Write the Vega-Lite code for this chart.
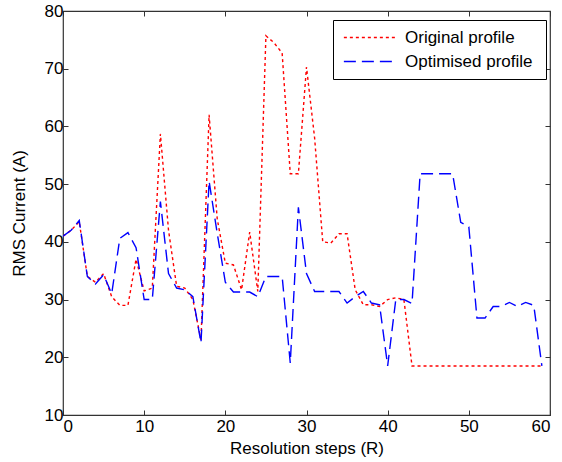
{
  "$schema": "https://vega.github.io/schema/vega-lite/v6.json",
  "width": 487,
  "height": 404,
  "autosize": {"type": "none"},
  "padding": {"left": 63, "top": 11, "right": 12, "bottom": 47},
  "background": "white",
  "config": {
    "view": {"stroke": "#333", "strokeWidth": 1.2},
    "font": "Liberation Sans",
    "axis": {
      "labelFont": "Liberation Sans", "titleFont": "Liberation Sans",
      "labelFontSize": 17, "titleFontSize": 17, "titleFontWeight": "normal",
      "labelColor": "#000", "titleColor": "#000",
      "domain": false, "grid": false,
      "tickColor": "#333", "tickSize": -5, "tickWidth": 1
    }
  },
  "data": {"values": [
    {"x":0,"s":"Original profile","v":41},{"x":1,"s":"Original profile","v":42},{"x":2,"s":"Original profile","v":43.5},{"x":3,"s":"Original profile","v":34},{"x":4,"s":"Original profile","v":33},{"x":5,"s":"Original profile","v":34.5},{"x":6,"s":"Original profile","v":30.5},{"x":7,"s":"Original profile","v":29},{"x":8,"s":"Original profile","v":29},{"x":9,"s":"Original profile","v":37},
    {"x":10,"s":"Original profile","v":31.5},{"x":11,"s":"Original profile","v":32},{"x":12,"s":"Original profile","v":58.7},{"x":13,"s":"Original profile","v":42},{"x":14,"s":"Original profile","v":32.3},{"x":15,"s":"Original profile","v":32},{"x":16,"s":"Original profile","v":30},{"x":17,"s":"Original profile","v":23},{"x":18,"s":"Original profile","v":62},{"x":19,"s":"Original profile","v":44},
    {"x":20,"s":"Original profile","v":36.3},{"x":21,"s":"Original profile","v":36},{"x":22,"s":"Original profile","v":31.7},{"x":23,"s":"Original profile","v":41.7},{"x":24,"s":"Original profile","v":31.4},{"x":25,"s":"Original profile","v":75.7},{"x":26,"s":"Original profile","v":74.5},{"x":27,"s":"Original profile","v":72.7},{"x":28,"s":"Original profile","v":51.8},{"x":29,"s":"Original profile","v":51.8},
    {"x":30,"s":"Original profile","v":70.3},{"x":31,"s":"Original profile","v":58},{"x":32,"s":"Original profile","v":40},{"x":33,"s":"Original profile","v":39.8},{"x":34,"s":"Original profile","v":41.4},{"x":35,"s":"Original profile","v":41.4},{"x":36,"s":"Original profile","v":31.7},{"x":37,"s":"Original profile","v":29.1},{"x":38,"s":"Original profile","v":29.1},{"x":39,"s":"Original profile","v":28.8},
    {"x":40,"s":"Original profile","v":30},{"x":41,"s":"Original profile","v":30.3},{"x":42,"s":"Original profile","v":30},{"x":43,"s":"Original profile","v":18.5},{"x":44,"s":"Original profile","v":18.5},{"x":45,"s":"Original profile","v":18.5},{"x":46,"s":"Original profile","v":18.5},{"x":47,"s":"Original profile","v":18.5},{"x":48,"s":"Original profile","v":18.5},{"x":49,"s":"Original profile","v":18.5},
    {"x":50,"s":"Original profile","v":18.5},{"x":51,"s":"Original profile","v":18.5},{"x":52,"s":"Original profile","v":18.5},{"x":53,"s":"Original profile","v":18.5},{"x":54,"s":"Original profile","v":18.5},{"x":55,"s":"Original profile","v":18.5},{"x":56,"s":"Original profile","v":18.5},{"x":57,"s":"Original profile","v":18.5},{"x":58,"s":"Original profile","v":18.5},{"x":59,"s":"Original profile","v":18.5},
    {"x":0,"s":"Optimised profile","v":41},{"x":1,"s":"Optimised profile","v":42},{"x":2,"s":"Optimised profile","v":43.7},{"x":3,"s":"Optimised profile","v":34},{"x":4,"s":"Optimised profile","v":32.7},{"x":5,"s":"Optimised profile","v":34.3},{"x":6,"s":"Optimised profile","v":31},{"x":7,"s":"Optimised profile","v":40.6},{"x":8,"s":"Optimised profile","v":41.6},{"x":9,"s":"Optimised profile","v":39},
    {"x":10,"s":"Optimised profile","v":30},{"x":11,"s":"Optimised profile","v":30},{"x":12,"s":"Optimised profile","v":47},{"x":13,"s":"Optimised profile","v":34.5},{"x":14,"s":"Optimised profile","v":32},{"x":15,"s":"Optimised profile","v":31.7},{"x":16,"s":"Optimised profile","v":30.5},{"x":17,"s":"Optimised profile","v":22.5},{"x":18,"s":"Optimised profile","v":50.5},{"x":19,"s":"Optimised profile","v":41.5},
    {"x":20,"s":"Optimised profile","v":33},{"x":21,"s":"Optimised profile","v":31.3},{"x":22,"s":"Optimised profile","v":31.3},{"x":23,"s":"Optimised profile","v":31.3},{"x":24,"s":"Optimised profile","v":30.5},{"x":25,"s":"Optimised profile","v":34},{"x":26,"s":"Optimised profile","v":34},{"x":27,"s":"Optimised profile","v":34},{"x":28,"s":"Optimised profile","v":19},{"x":29,"s":"Optimised profile","v":46},
    {"x":30,"s":"Optimised profile","v":34.5},{"x":31,"s":"Optimised profile","v":31.4},{"x":32,"s":"Optimised profile","v":31.4},{"x":33,"s":"Optimised profile","v":31.4},{"x":34,"s":"Optimised profile","v":31.4},{"x":35,"s":"Optimised profile","v":29.4},{"x":36,"s":"Optimised profile","v":30.5},{"x":37,"s":"Optimised profile","v":31.4},{"x":38,"s":"Optimised profile","v":29.4},{"x":39,"s":"Optimised profile","v":29.1},
    {"x":40,"s":"Optimised profile","v":18.5},{"x":41,"s":"Optimised profile","v":30},{"x":42,"s":"Optimised profile","v":30},{"x":43,"s":"Optimised profile","v":29.3},{"x":44,"s":"Optimised profile","v":51.8},{"x":45,"s":"Optimised profile","v":51.8},{"x":46,"s":"Optimised profile","v":51.8},{"x":47,"s":"Optimised profile","v":51.8},{"x":48,"s":"Optimised profile","v":51.8},{"x":49,"s":"Optimised profile","v":43.4},
    {"x":50,"s":"Optimised profile","v":42.6},{"x":51,"s":"Optimised profile","v":26.8},{"x":52,"s":"Optimised profile","v":26.8},{"x":53,"s":"Optimised profile","v":28.8},{"x":54,"s":"Optimised profile","v":28.8},{"x":55,"s":"Optimised profile","v":29.5},{"x":56,"s":"Optimised profile","v":28.8},{"x":57,"s":"Optimised profile","v":29.5},{"x":58,"s":"Optimised profile","v":29},{"x":59,"s":"Optimised profile","v":18.5}
  ]},
  "resolve": {"axis": {"x": "independent", "y": "independent"}},
  "layer": [
    {
      "mark": {"type": "line", "strokeWidth": 1.4, "clip": true},
      "encoding": {
        "x": {"field": "x", "type": "quantitative", "scale": {"domain": [0, 60], "nice": false, "zero": false},
              "axis": {"title": "Resolution steps (R)", "values": [0,10,20,30,40,50,60], "titlePadding": 6, "labelPadding": 8}},
        "y": {"field": "v", "type": "quantitative", "scale": {"domain": [10, 80], "nice": false, "zero": false},
              "axis": {"title": "RMS Current (A)", "values": [10,20,30,40,50,60,70,80], "titlePadding": 16, "labelPadding": 5}},
        "color": {"field": "s", "type": "nominal",
                  "scale": {"domain": ["Original profile", "Optimised profile"], "range": ["#ff0000", "#0000ff"]},
                  "legend": {"title": " ", "titleOrient": "right", "titlePadding": 4, "orient": "none", "legendX": 270, "legendY": 9,
                             "symbolType": "M-1,0H7", "symbolSize": 176, "symbolStrokeWidth": 1.4,
                             "labelFontSize": 17, "labelFont": "Liberation Sans", "labelColor": "#000",
                             "strokeColor": "#000", "fillColor": "white", "padding": 9, "rowPadding": 6,
                             "labelOffset": 46}},
        "strokeDash": {"field": "s", "type": "nominal",
                       "scale": {"domain": ["Original profile", "Optimised profile"], "range": [[3, 3], [12, 6]]},
                       "legend": null},
        "order": {"field": "x"}
      }
    },
    {
      "mark": {"type": "line", "opacity": 0, "clip": true},
      "encoding": {
        "x": {"field": "x", "type": "quantitative", "axis": {"orient": "top", "labels": false, "title": null, "values": [0,10,20,30,40,50,60]}},
        "y": {"field": "v", "type": "quantitative", "axis": {"orient": "right", "labels": false, "title": null, "values": [10,20,30,40,50,60,70,80]}},
        "detail": {"field": "s"},
        "order": {"field": "x"}
      }
    }
  ]
}
